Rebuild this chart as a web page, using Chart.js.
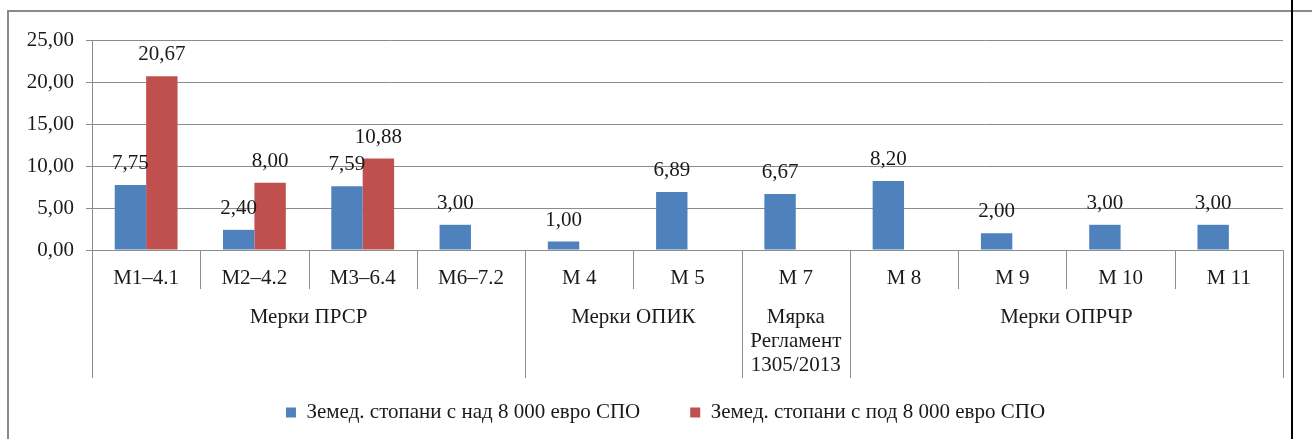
<!DOCTYPE html>
<html>
<head>
<meta charset="utf-8">
<script src="https://cdn.jsdelivr.net/npm/chart.js@4/dist/chart.umd.min.js"></script>
<style>
    html, body { margin: 0; padding: 0; background: #fff; }
    #wrap { width: 1312px; height: 439px; position: relative; }
</style>
</head>
<body>
<div id="wrap"><canvas id="chart" width="1312" height="439"></canvas></div>
<script>
    // categories and values
    const categories = ['М1–4.1', 'М2–4.2', 'М3–6.4', 'М6–7.2', 'М 4', 'М 5', 'М 7', 'М 8', 'М 9', 'М 10', 'М 11'];
    const overValues = [7.75, 2.40, 7.59, 3.00, 1.00, 6.89, 6.67, 8.20, 2.00, 3.00, 3.00];
    const underValues = [20.67, 8.00, 10.88, null, null, null, null, null, null, null, null];
    const groupNames = ['Мерки ПРСР', 'Мерки ОПИК', ['Мярка', 'Регламент', '1305/2013'], 'Мерки ОПРЧР'];
    const groupSizes = [4, 2, 1, 4];
    const seriesNames = ['Земед. стопани с над 8 000 евро СПО', 'Земед. стопани с под 8 000 евро СПО'];

    const FONT = '"Liberation Serif", "Times New Roman", serif';
    const GRID = '#8c8c8c';
    const TEXT = '#1a1a1a';
    const FS = 21;

    function fmt(v) { return v.toFixed(2).replace('.', ','); }

    // outer frame of the picture
    const framePlugin = {
        id: 'frame',
        afterLayout: function (chart) {
            // legend sits a bit right of the canvas centre in the original
            chart.legend.left += 20;
            chart.legend.right += 20;
        },
        beforeDraw: function (chart) {
            const c = chart.ctx;
            c.save();
            c.fillStyle = '#fff';
            c.fillRect(0, 0, chart.width, chart.height);
            c.strokeStyle = '#8a8a8a';
            c.lineWidth = 2;
            c.beginPath();
            c.moveTo(8, chart.height);
            c.lineTo(8, 11);
            c.lineTo(chart.width, 11);
            c.stroke();
            c.strokeStyle = '#000';
            c.beginPath();
            c.moveTo(1292, 0);
            c.lineTo(1292, chart.height);
            c.stroke();
            c.restore();
        }
    };

    // two-level category axis: dividers and group labels
    const groupAxisPlugin = {
        id: 'groupAxis',
        afterDraw: function (chart) {
            const x = chart.scales.x;
            const c = chart.ctx;
            const step = (x.right - x.left) / categories.length;
            const top = x.top;
            c.save();
            c.strokeStyle = GRID;
            c.lineWidth = 1;
            const groupEdges = [0];
            groupSizes.reduce(function (acc, n) { groupEdges.push(acc + n); return acc + n; }, 0);
            for (let i = 0; i <= categories.length; i++) {
                const px = Math.round(x.left + i * step) + 0.5;
                const long = groupEdges.indexOf(i) >= 0;
                c.beginPath();
                c.moveTo(px, top);
                c.lineTo(px, long ? top + 128 : top + 39);
                c.stroke();
            }
            c.fillStyle = TEXT;
            c.font = FS + 'px ' + FONT;
            c.textAlign = 'center';
            c.textBaseline = 'middle';
            groupNames.forEach(function (name, g) {
                const cx = x.left + (groupEdges[g] + groupEdges[g + 1]) / 2 * step;
                const lines = Array.isArray(name) ? name : [name];
                lines.forEach(function (line, k) {
                    c.fillText(line, cx, top + 67 + k * 24);
                });
            });
            c.restore();
        }
    };

    // value labels above the bars
    const valueLabelPlugin = {
        id: 'valueLabels',
        afterDatasetsDraw: function (chart) {
            const c = chart.ctx;
            c.save();
            c.fillStyle = TEXT;
            c.font = FS + 'px ' + FONT;
            c.textAlign = 'center';
            c.textBaseline = 'bottom';
            chart.data.datasets.forEach(function (ds, di) {
                chart.getDatasetMeta(di).data.forEach(function (bar, i) {
                    const v = ds.data[i];
                    if (v === null || v === undefined) return;
                    c.fillText(fmt(v), bar.x, bar.y - 11);
                });
            });
            c.restore();
        }
    };

    new Chart(document.getElementById('chart'), {
        type: 'bar',
        data: {
            labels: categories,
            datasets: [{
                label: seriesNames[0],
                data: overValues,
                backgroundColor: '#4f81bd',
                categoryPercentage: 0.58,
                barPercentage: 1.0
            }, {
                label: seriesNames[1],
                data: underValues,
                backgroundColor: '#c0504d',
                categoryPercentage: 0.58,
                barPercentage: 1.0
            }]
        },
        options: {
            responsive: false,
            animation: false,
            layout: { padding: { left: 8, right: 29, top: 40, bottom: 6 } },
            plugins: {
                legend: {
                    position: 'bottom',
                    labels: {
                        font: { family: FONT, size: FS },
                        color: TEXT,
                        boxWidth: 10,
                        boxHeight: 10,
                        padding: 50
                    }
                },
                tooltip: { enabled: false }
            },
            scales: {
                y: {
                    min: 0,
                    max: 25,
                    ticks: {
                        stepSize: 5,
                        color: TEXT,
                        font: { family: FONT, size: FS },
                        padding: 12,
                        callback: function (v) { return fmt(v); }
                    },
                    grid: { color: GRID, tickLength: 6 },
                    border: { color: GRID },
                    afterFit: function (s) { s.width = 84; }
                },
                x: {
                    grid: { display: false },
                    border: { color: GRID },
                    ticks: {
                        color: TEXT,
                        font: { family: FONT, size: FS },
                        padding: 8,
                        maxRotation: 0,
                        autoSkip: false
                    },
                    afterFit: function (s) { s.height = 102; }
                }
            }
        },
        plugins: [framePlugin, groupAxisPlugin, valueLabelPlugin]
    });
</script>
</body>
</html>
